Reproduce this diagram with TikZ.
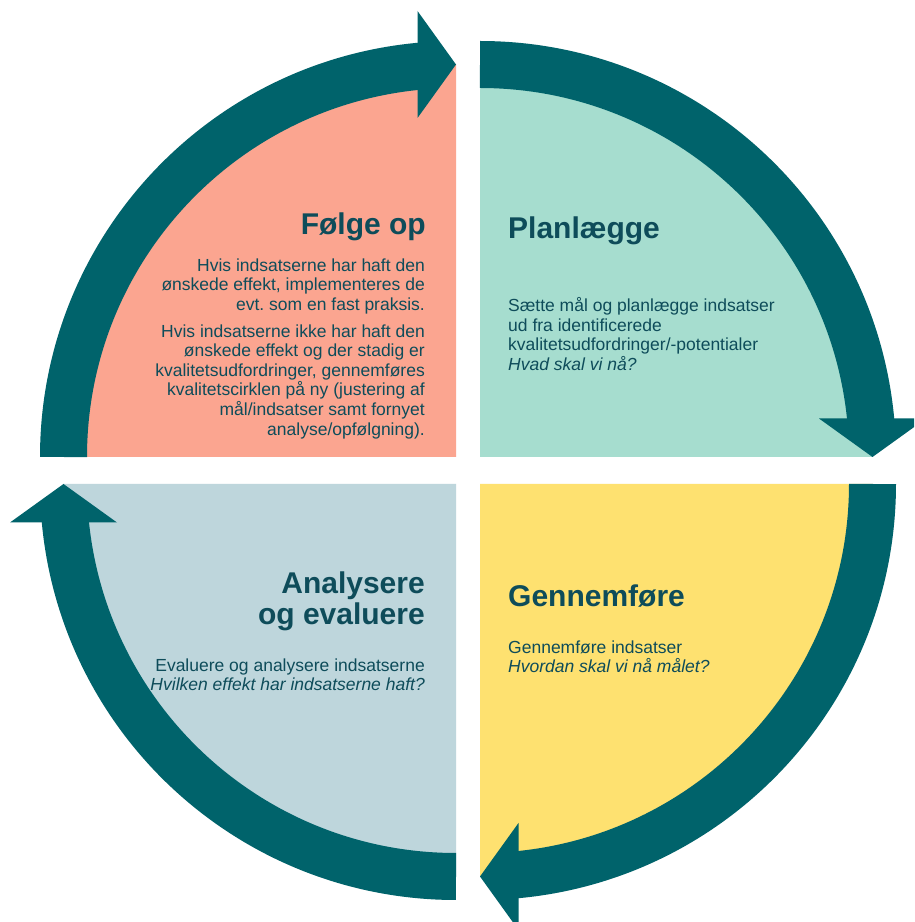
\documentclass[tikz,border=0pt]{standalone}
\usepackage{fontspec}
\setmainfont{Liberation Sans}
\frenchspacing
\definecolor{bandc}{RGB}{0,99,107}
\definecolor{salmon}{RGB}{251,165,144}
\definecolor{mint}{RGB}{166,221,207}
\definecolor{sun}{RGB}{254,225,112}
\definecolor{mist}{RGB}{190,214,220}
\definecolor{ink}{RGB}{14,76,90}
\newcommand\kvadrant[3]{%
 \begin{scope}[shift={#1}, rotate=#2]
  \fill[#3] (0,0) -- (180:392.5) arc[start angle=180,end angle=90,radius=392.5] -- cycle;
  \draw[band] (180:392.5) arc[start angle=180,end angle=94,radius=392.5];
  \fill[bandc] (-38.5,446) -- (0,392.5) -- (-38.5,339) -- cycle;
 \end{scope}}
\begin{document}
\begin{tikzpicture}[x=1pt,y=1pt,
  title/.style={font=\bfseries\fontsize{30}{31}\selectfont\frenchspacing, text=ink, inner sep=0pt},
  body/.style={font=\fontsize{17.5}{19.6}\selectfont\frenchspacing, text=ink, inner sep=0pt},
  band/.style={line width=47pt, draw=bandc},
]
\clip (0,0) rectangle (914,922);
\fill[white] (0,0) rectangle (914,922);

\kvadrant{(456,465)}{0}{salmon}
\kvadrant{(480,465)}{-90}{mint}
\kvadrant{(480,438)}{-180}{sun}
\kvadrant{(456,438)}{90}{mist}

\node[title, anchor=base east] (foelgeT) at (426,687) {Følge op};
\node[body, anchor=north east, align=right] (foelge1) at (425,663.8) {Hvis indsatserne har haft den\\ ønskede effekt, implementeres de\\ evt. som en fast praksis.};
\node[body, anchor=north east, align=right] (foelge2) at (425,597.8) {Hvis indsatserne ikke har haft den\\ ønskede effekt og der stadig er\\ kvalitetsudfordringer, gennemføres\\ kvalitetscirklen på ny (justering af\\ mål/indsatser samt fornyet\\ analyse/opfølgning).};

\node[title, anchor=base west] (planT) at (508,683) {Planlægge};
\node[body, anchor=north west, align=left] (plan1) at (508,624.8) {Sætte mål og planlægge indsatser\\ ud fra identificerede\\ kvalitetsudfordringer/-potentialer\\ \textit{Hvad skal vi nå?}};

\node[title, anchor=north east, align=right] (anaT) at (425,350.5) {Analysere\\ og evaluere};
\node[body, anchor=north east, align=right] (ana1) at (425,263.5) {Evaluere og analysere indsatserne\\ \textit{Hvilken effekt har indsatserne haft?}};

\node[title, anchor=base west] (genT) at (508,315) {Gennemføre};
\node[body, anchor=north west, align=left] (gen1) at (508,281.5) {Gennemføre indsatser\\ \textit{Hvordan skal vi nå målet?}};
\end{tikzpicture}
\end{document}
